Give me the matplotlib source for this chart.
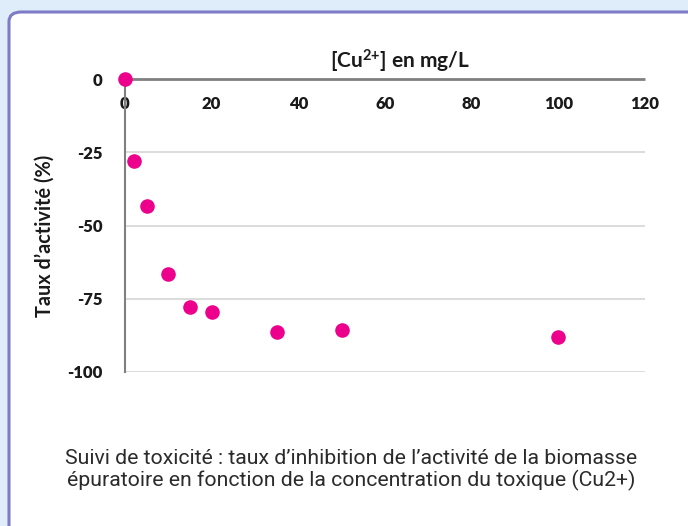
import matplotlib
matplotlib.use("Agg")
import matplotlib.pyplot as plt
from matplotlib.patches import FancyBboxPatch

plt.rcParams["font.family"] = ["Lato", "DejaVu Sans"]
plt.rcParams["mathtext.default"] = "regular"

## data
cu_conc = [0, 2, 5, 10, 15, 20, 35, 50, 100]  # mg/L
activity = [0, -28.1, -43.2, -66.4, -77.8, -79.5, -86.4, -85.8, -88.0]  # %
x_ticks = [0, 20, 40, 60, 80, 100, 120]
y_ticks = [0, -25, -50, -75, -100]

W, H = 688, 526
fig = plt.figure(figsize=(W / 100, H / 100), dpi=100)
fig.patch.set_facecolor("#deedf9")

# white rounded frame with purple border
frame = FancyBboxPatch(
    (9 / W, -0.2), 1.2, 1.2 - 12 / H,
    boxstyle="round,pad=0,rounding_size=0.018",
    transform=fig.transFigure, facecolor="white", edgecolor="#7e7bc7",
    linewidth=2.2, zorder=-5,
)
fig.patches.append(frame)

ax = fig.add_axes([125 / W, 1 - 372 / H, 520 / W, 293 / H])
ax.set_facecolor("none")

ax.scatter(cu_conc, activity, s=110, color="#ec008c", zorder=5, clip_on=False, linewidths=0)

ax.set_xlim(0, 120)
ax.set_ylim(-100, 0)
ax.set_xticks(x_ticks)
ax.set_yticks(y_ticks)
ax.set_yticklabels([str(v) for v in y_ticks])

ax.xaxis.tick_top()
ax.tick_params(axis="x", length=0, pad=-24, labelsize=12)
ax.tick_params(axis="y", length=0, pad=16, labelsize=12)
for lab in ax.get_xticklabels() + ax.get_yticklabels():
    lab.set_fontweight("heavy")
    lab.set_color("#1a1a1a")

ax.grid(axis="y", color="#d9d9d9", linewidth=1.3)
ax.set_axisbelow(True)
for side in ["right", "bottom"]:
    ax.spines[side].set_visible(False)
ax.spines["top"].set_color("#808080")
ax.spines["top"].set_linewidth(2)
ax.spines["top"].set_capstyle("butt")
ax.spines["left"].set_color("#808080")
ax.spines["left"].set_linewidth(1.5)

fig.text(400 / W, 1 - 61 / H, "[Cu$^{2{+}}$] en mg/L", ha="center", va="center",
         fontsize=15, fontweight="bold", color="#1a1a1a")
fig.text(45 / W, 1 - 236 / H, "Taux d\u2019activit\u00e9 (%)", ha="center", va="center",
         rotation=90, fontsize=14.3, fontweight="bold", color="#1a1a1a")

caption = ("Suivi de toxicit\u00e9 : taux d\u2019inhibition de l\u2019activit\u00e9 de la biomasse\n"
           "\u00e9puratoire en fonction de la concentration du toxique (Cu2+)")
fig.text(351 / W, 1 - 470 / H, caption, ha="center", va="center", fontsize=15.3,
         family=["Roboto", "DejaVu Sans"], color="#2b2b2b",
         linespacing=1.12)

fig.savefig("out.png", dpi=100, facecolor=fig.get_facecolor())
